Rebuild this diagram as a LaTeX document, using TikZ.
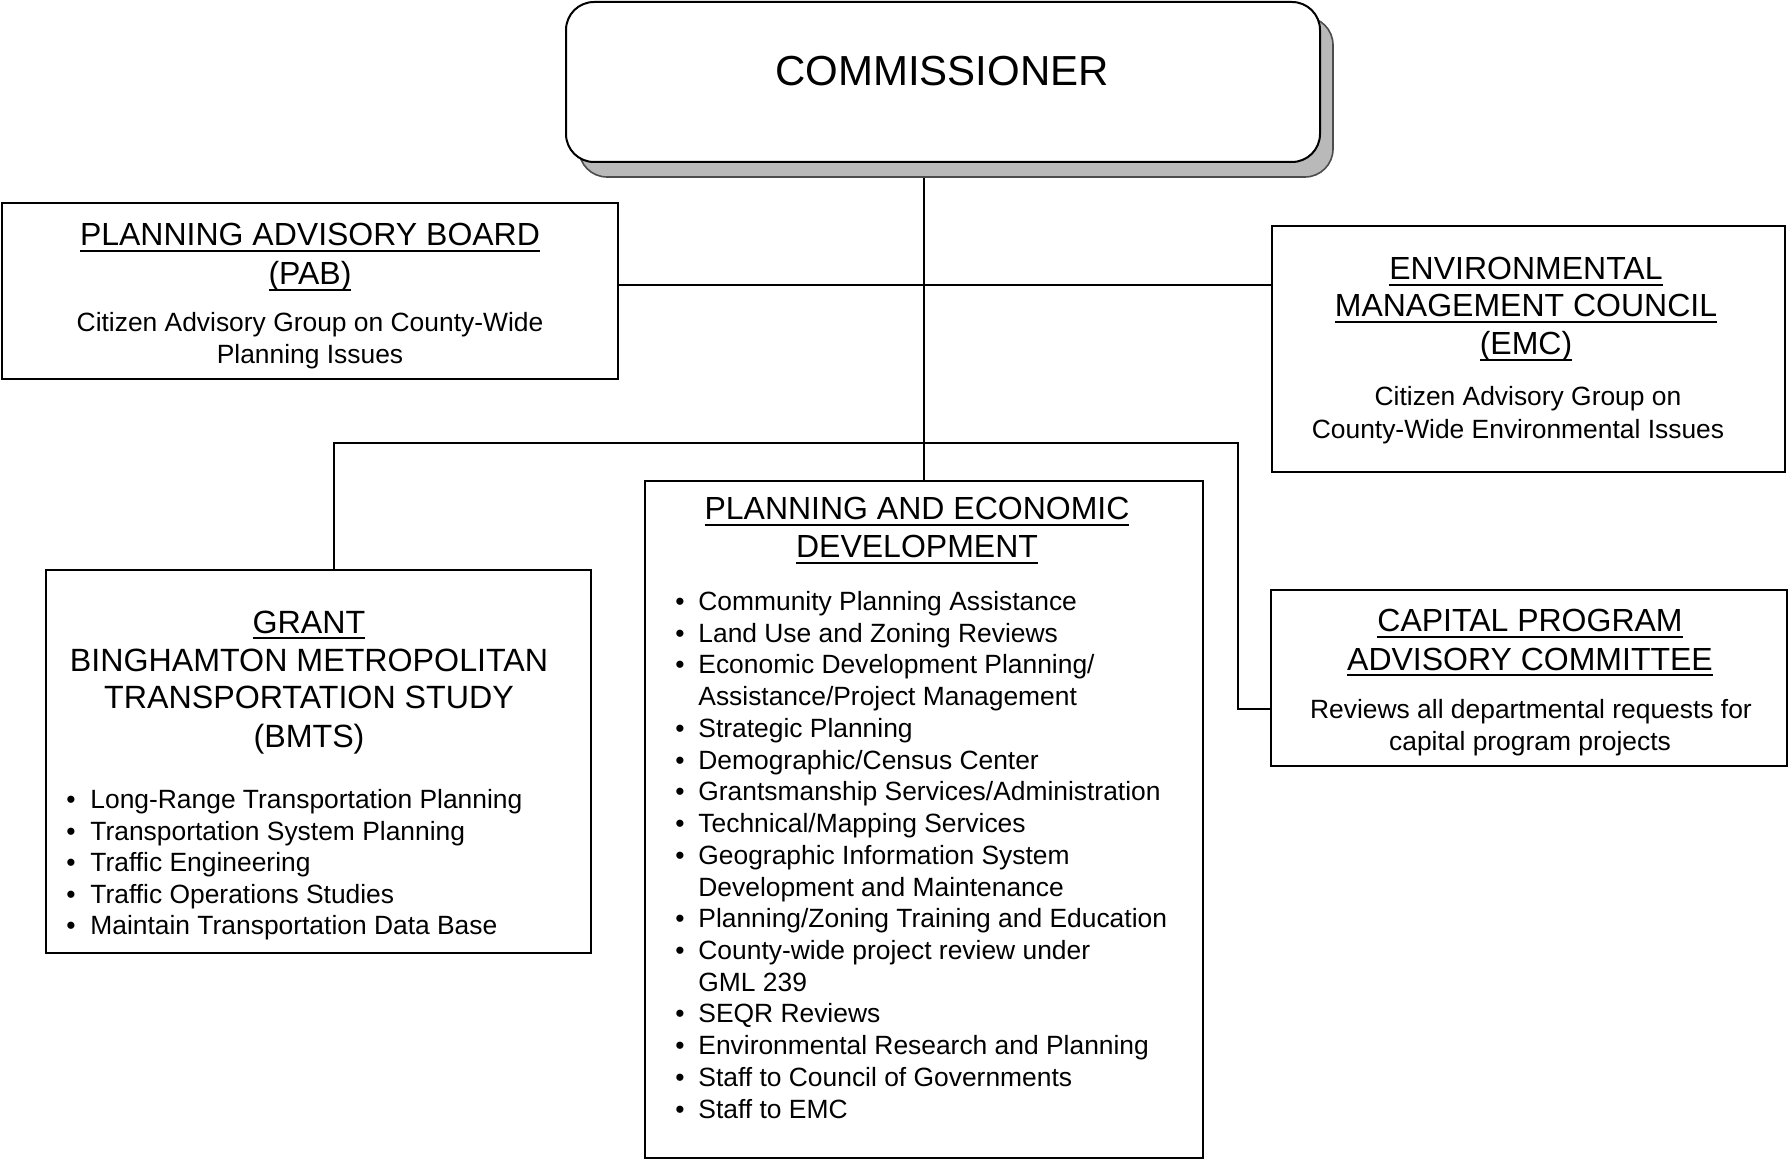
\documentclass[tikz,border=0pt]{standalone}
\usepackage{fontspec}
\setmainfont{Liberation Sans}
\newsavebox\ulbox
\newcommand\ulin[1]{\sbox\ulbox{#1}\rlap{\rule[-2.8pt]{\wd\ulbox}{0.7pt}}\usebox\ulbox}
\tikzset{
 box/.style={draw, line width=1pt, inner sep=0pt, fill=white},
 conn/.style={line width=0.8pt},
 ttl/.style={inner sep=0pt, anchor=base, font=\fontsize{16}{19}\selectfont},
 gttl/.style={inner sep=0pt, anchor=base, font=\fontsize{16.1}{19}\selectfont},
 body/.style={inner sep=0pt, anchor=base, font=\fontsize{13.2}{15}\selectfont},
 itemtext/.style={body, anchor=base west},
 bul/.style={body, anchor=base},
}
\newcommand\pedline[3]{%
  \node[itemtext] (ped#1) at (698,{610.5+31.73*#1}) {#3};
  \ifnum#2=1 \node[bul] (pedb#1) at (680,{610.5+31.73*#1}) {•};\fi}
\newcommand\grline[2]{%
  \node[itemtext] (gr#1) at (90,{808.5+31.6*#1}) {#2};
  \node[bul] (grb#1) at (71,{808.5+31.6*#1}) {•};}
\begin{document}
\begin{tikzpicture}[x=0.5pt,y=-0.5pt]
\useasboundingbox (0,0) rectangle (1789,1160);
% boxes
\node[box, minimum width=308pt, minimum height=88pt] (pab) at (310,291) {};
\node[box, minimum width=256.5pt, minimum height=123pt] (emc) at (1528.5,349) {};
\node[box, minimum width=272.5pt, minimum height=191.5pt] (grant) at (318.5,761.5) {};
\node[box, minimum width=279pt, minimum height=338.5pt] (ped) at (924,819.5) {};
\node[box, minimum width=258pt, minimum height=88pt] (cpac) at (1529,678) {};
% connectors
\coordinate (j1) at (923,285);
\coordinate (b1) at (334,443);
\coordinate (b2) at (1238,443);
\coordinate (b3) at (1238,709);
\draw[conn] (pab.east |- j1) -- (emc.west |- j1);
\draw[conn] (grant.north -| b1) -- (b1) -- (b2) -- (b3) -- (cpac.west |- b3);
\node[inner sep=0pt, minimum width=377pt, minimum height=80pt, rounded corners=14pt, fill=gray!55, draw=black!70, line width=0.8pt] (commsh) at (956,97) {};
\draw[conn] (ped.north) -- (ped.north |- commsh.south);
% commissioner
\node[box, rounded corners=14pt, minimum width=377pt, minimum height=80pt] (comm) at (943,82) {};
\node[inner sep=0pt, anchor=base, font=\fontsize{21}{25}\selectfont] (commt) at (942,86) {COMMISSIONER};
% PAB
\node[ttl] (pab1) at (310,246) {\ulin{PLANNING ADVISORY BOARD}};
\node[ttl] (pab2) at (310,285) {\ulin{(PAB)}};
\node[body] (pab3) at (310,332) {Citizen Advisory Group on County-Wide};
\node[body] (pab4) at (310,364) {Planning Issues};
% EMC
\node[ttl] (emc1) at (1526,280) {\ulin{ENVIRONMENTAL}};
\node[ttl] (emc2) at (1526,317) {\ulin{MANAGEMENT COUNCIL}};
\node[ttl] (emc3) at (1526,355) {\ulin{(EMC)}};
\node[body] (emc4) at (1528,406) {Citizen Advisory Group on};
\node[body] (emc5) at (1518,439) {County-Wide Environmental Issues};
% CPAC
\node[ttl] (cp1) at (1530,632) {\ulin{CAPITAL PROGRAM}};
\node[ttl] (cp2) at (1530,670) {\ulin{ADVISORY COMMITTEE}};
\node[body] (cp3) at (1531,718) {Reviews all departmental requests for};
\node[body] (cp4) at (1530,750) {capital program projects};
% GRANT
\node[gttl] (g1) at (309,633) {\ulin{GRANT}};
\node[gttl] (g2) at (309,671) {BINGHAMTON METROPOLITAN};
\node[gttl] (g3) at (309,708) {TRANSPORTATION STUDY};
\node[gttl] (g4) at (309,747) {(BMTS)};
\grline{0}{Long-Range Transportation Planning}
\grline{1}{Transportation System Planning}
\grline{2}{Traffic Engineering}
\grline{3}{Traffic Operations Studies}
\grline{4}{Maintain Transportation Data Base}
% P&ED
\node[ttl] (p1) at (917,520) {\ulin{PLANNING AND ECONOMIC}};
\node[ttl] (p2) at (917,558) {\ulin{DEVELOPMENT}};
\pedline{0}{1}{Community Planning Assistance}
\pedline{1}{1}{Land Use and Zoning Reviews}
\pedline{2}{1}{Economic Development Planning/}
\pedline{3}{0}{Assistance/Project Management}
\pedline{4}{1}{Strategic Planning}
\pedline{5}{1}{Demographic/Census Center}
\pedline{6}{1}{Grantsmanship Services/Administration}
\pedline{7}{1}{Technical/Mapping Services}
\pedline{8}{1}{Geographic Information System}
\pedline{9}{0}{Development and Maintenance}
\pedline{10}{1}{Planning/Zoning Training and Education}
\pedline{11}{1}{County-wide project review under}
\pedline{12}{0}{GML 239}
\pedline{13}{1}{SEQR Reviews}
\pedline{14}{1}{Environmental Research and Planning}
\pedline{15}{1}{Staff to Council of Governments}
\pedline{16}{1}{Staff to EMC}
\end{tikzpicture}
\end{document}
